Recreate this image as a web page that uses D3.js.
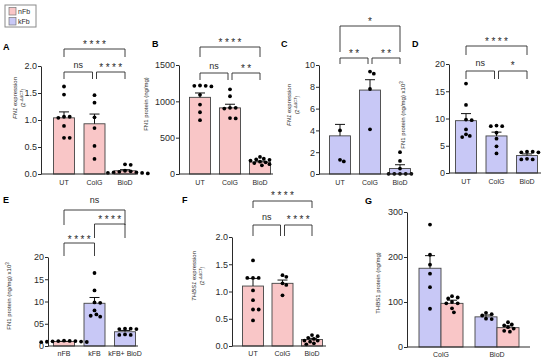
<!DOCTYPE html>
<html>
<head>
<meta charset="utf-8">
<script src="https://cdn.jsdelivr.net/npm/d3@7"></script>
<style>
  body { margin: 0; background: #fff; }
  svg { display: block; font-family: "Liberation Sans", Arial, sans-serif; }
</style>
</head>
<body>
<svg id="fig" width="550" height="360"></svg>
<script>
// ---- data ----
const treatGroups = ["UT", "ColG", "BioD"];
const eGroups = ["nFB", "kFB", "kFB+ BioD"];
const gGroups = ["ColG", "BioD"];
const legendKeys = ["nFb", "kFb"];

const aMean = [1.04, 0.93, 0.06];
const aSem = [0.11, 0.18, 0.02];
const aPts = [
  [1.62, 1.47, 1.06, 1.06, 1.04, 0.89, 0.67, 0.67],
  [1.46, 1.32, 1.05, 0.85, 0.52, 0.28],
  [0.18, 0.17, 0.06, 0.05, 0.04, 0.03, 0.03, 0.02, 0.02, 0.01]
];
const aTicks = [0, 0.5, 1, 1.5, 2];
const aStats = [[0, 1, "ns", 0], [1, 2, "****", 0], [0, 2, "****", 1]];

const bMean = [1055, 910, 165];
const bSem = [60, 50, 12];
const bPts = [
  [1205, 1214, 1214, 1218, 1090, 955, 850, 741],
  [1165, 1070, 910, 910, 900, 770, 765],
  [235, 210, 200, 195, 185, 170, 160, 150, 135, 120]
];
const bTicks = [0, 500, 1000, 1500];
const bStats = [[0, 1, "ns", 0], [1, 2, "**", 0], [0, 2, "****", 1]];

const cMean = [3.5, 7.7, 0.5];
const cSem = [1.05, 0.95, 0.35];
const cPts = [
  [4.0, 1.3, 1.15],
  [9.4, 9.2, 7.8, 4.1],
  [2.0, 1.2, 0.5, 0.02, 0.02, 0.02, 0.02, 0.02]
];
const cTicks = [0, 2, 4, 6, 8, 10];
const cStats = [[0, 1, "**", 0], [1, 2, "**", 0], [0, 2, "*", 1]];

const dMean = [9.6, 6.8, 3.2];
const dSem = [1.3, 0.7, 0.3];
const dPts = [
  [16.4, 12.5, 9.8, 9.7, 8.0, 7.1, 6.8, 6.6],
  [8.6, 8.6, 8.7, 7.4, 6.3, 4.9, 3.6],
  [3.9, 3.9, 3.8, 3.8, 2.5, 2.5, 2.6]
];
const dTicks = [0, 5, 10, 15, 20];
const dStats = [[0, 1, "ns", 0], [1, 2, "*", 0], [0, 2, "****", 1]];

const eMean = [1.0, 9.6, 3.2];
const eSem = [0.05, 1.3, 0.3];
const ePts = [
  [1.2, 1.15, 1.1, 1.1, 1.05, 1.0, 0.95, 0.9, 0.85],
  [16.4, 12.5, 9.8, 9.7, 8.0, 7.1, 6.8, 6.6],
  [3.9, 3.9, 3.8, 3.8, 2.5, 2.5, 2.6]
];
const eTicks = [0, 5, 10, 15, 20];
const eTickLabels = ["0", "05", "10", "15", "20"];
const eStats = [[0, 1, "****", 0], [1, 2, "****", 1], [0, 2, "ns", 2]];

const fMean = [1.10, 1.15, 0.12];
const fSem = [0.14, 0.06, 0.02];
const fPts = [
  [1.57, 1.25, 1.25, 1.25, 1.02, 0.84, 0.67, 0.67, 0.47],
  [1.30, 1.27, 1.15, 1.12, 0.93],
  [0.20, 0.18, 0.15, 0.13, 0.10, 0.10, 0.08, 0.05, 0.03]
];
const fTicks = [0, 0.5, 1, 1.5, 2];
const fStats = [[0, 1, "ns", 0], [1, 2, "****", 0], [0, 2, "****", 1]];

// G: per group, [kFb, nFb]
const gMean = [[175, 97], [67, 43]];
const gSem = [[28, 7], [4, 4]];
const gPts = [
  [[272, 205, 183, 163, 133, 85], [113, 110, 108, 100, 97, 97, 86, 77]],
  [[76, 73, 70, 63, 62], [55, 50, 48, 44, 41, 36, 34]]
];
const gTicks = [0, 100, 200, 300];

// ---- style ----
const pink = "#f9c6c7", blue = "#c8c8f6", ink = "#2a2a2a";
const svg = d3.select("#fig");

function swarm(vals, y, cx, r) {
  const placed = [];
  vals.slice().sort((a, b) => b - a).forEach(v => {
    const py = y(v);
    for (let k = 0; k < 60; k++) {
      const off = k === 0 ? 0 : (k % 2 ? 1 : -1) * Math.ceil(k / 2) * r;
      const px = cx + off;
      if (placed.every(p => Math.hypot(p.x - px, p.y - py) >= 2 * r + 0.3)) {
        placed.push({ x: px, y: py });
        break;
      }
    }
  });
  return placed;
}

function yLabel(g, p) {
  const t = g.append("text")
    .attr("transform", `translate(${p.yl.x},${p.yl.y}) rotate(-90)`)
    .attr("text-anchor", "middle")
    .attr("font-size", p.yl.size)
    .attr("fill", ink);
  if (p.gene) {
    t.append("tspan").attr("font-style", "italic").text(p.gene);
    t.append("tspan").text(p.title);
    const s = g.append("text")
      .attr("transform", `translate(${p.yl.x + 8},${p.yl.y}) rotate(-90)`)
      .attr("text-anchor", "middle")
      .attr("font-size", 5)
      .attr("fill", ink);
    s.append("tspan").text("(2");
    s.append("tspan").attr("font-style", "italic").attr("dy", -2).attr("font-size", 4).text("-\u0394\u0394CT");
    s.append("tspan").attr("dy", 2).text(")");
  } else {
    t.text(p.title);
    if (p.sup) t.append("tspan").attr("dy", -2).attr("font-size", 4.5).text(p.sup);
  }
}

function yAxis(g, p, y) {
  const ax = g.append("g")
    .attr("transform", `translate(${p.box.ax},0)`)
    .call(d3.axisLeft(y).tickValues(p.ticks).tickSize(3).tickSizeOuter(0).tickPadding(1)
      .tickFormat((d, i) => p.tickLabels ? p.tickLabels[i] : p.fmt(d)));
  ax.select(".domain").attr("stroke", ink);
  ax.selectAll(".tick line").attr("stroke", ink);
  ax.selectAll(".tick text").attr("font-size", 9).attr("fill", ink).attr("font-family", "Liberation Sans, Arial, sans-serif");
  g.append("line")
    .attr("x1", p.box.ax).attr("x2", p.box.end)
    .attr("y1", p.box.bot).attr("y2", p.box.bot)
    .attr("stroke", ink);
}

function brackets(g, p, x) {
  p.stats.forEach(([i, j, label, lv]) => {
    const L = p.lv[lv];
    let x1 = x(p.groups[i]), x2 = x(p.groups[j]);
    if (p.stats.some(s => s[3] === lv && s[1] === i)) x1 += 2;
    if (p.stats.some(s => s[3] === lv && s[0] === j)) x2 -= 2;
    g.append("path")
      .attr("d", `M${x1},${L.y + L.leg}V${L.y}H${x2}V${L.y + L.leg}`)
      .attr("fill", "none").attr("stroke", ink).attr("stroke-width", 0.9);
    const star = label.includes("*");
    g.append("text")
      .attr("x", (x1 + x2) / 2 + (star ? 1.2 : 0))
      .attr("y", L.t + (star ? 5.8 : 3))
      .attr("text-anchor", "middle")
      .attr("font-size", star ? 10 : 9)
      .attr("letter-spacing", star ? 2.4 : 0)
      .attr("fill", ink)
      .text(label);
  });
}

function barPanel(p) {
  const g = svg.append("g");
  const y = d3.scaleLinear().domain([0, p.max]).range([p.box.bot, p.box.top]);
  const x = d3.scalePoint().domain(p.groups).range([p.box.c0, p.box.c1]);
  const w = 21;

  g.selectAll("rect.bar").data(p.groups).join("rect")
    .attr("x", d => x(d) - w / 2).attr("width", w)
    .attr("y", (d, i) => y(p.mean[i]))
    .attr("height", (d, i) => p.box.bot - y(p.mean[i]))
    .attr("fill", (d, i) => p.fills[i]).attr("stroke", "#444").attr("stroke-width", 0.9);

  g.selectAll("path.err").data(p.groups).join("path")
    .attr("d", (d, i) => {
      const cx = x(d), y0 = y(p.mean[i]), y1 = y(p.mean[i] + p.sem[i]);
      return `M${cx},${y0}V${y1}M${cx - 5},${y1}H${cx + 5}`;
    })
    .attr("fill", "none").attr("stroke", "#111").attr("stroke-width", 1);

  p.groups.forEach((d, i) => {
    g.selectAll(null).data(swarm(p.pts[i], y, x(d), 1.9)).join("circle")
      .attr("cx", q => q.x).attr("cy", q => q.y).attr("r", 1.9).attr("fill", "#000");
  });

  yAxis(g, p, y);

  g.selectAll("text.xl").data(p.groups).join("text")
    .attr("x", d => x(d)).attr("y", p.box.bot + p.box.xl)
    .attr("text-anchor", "middle").attr("font-size", 7).attr("fill", ink)
    .text(d => d);

  brackets(g, p, x);
  yLabel(g, p);
  g.append("text").attr("x", p.lab.x).attr("y", p.lab.y)
    .attr("font-size", 9).attr("font-weight", "bold").attr("fill", "#000").text(p.id);
}

const panels = [
  { id: "A", groups: treatGroups, mean: aMean, sem: aSem, pts: aPts, fills: [pink, pink, pink],
    max: 2, ticks: aTicks, fmt: d3.format(".1f"), stats: aStats, gene: "FN1", title: " expression",
    box: { ax: 41, top: 66, bot: 174, c0: 64, c1: 125, end: 138, xl: 11 }, lab: { x: 3, y: 50 },
    yl: { x: 17, y: 98, size: 6 }, lv: [{ y: 72, leg: 7, t: 65 }, { y: 49, leg: 8, t: 42 }] },
  { id: "B", groups: treatGroups, mean: bMean, sem: bSem, pts: bPts, fills: [pink, pink, pink],
    max: 1500, ticks: bTicks, fmt: d3.format("d"), stats: bStats, title: "FN1 protein (ng/mg)",
    box: { ax: 179, top: 65, bot: 174, c0: 200, c1: 260, end: 273, xl: 11 }, lab: { x: 152, y: 47 },
    yl: { x: 148, y: 104, size: 6 }, lv: [{ y: 73, leg: 7, t: 66 }, { y: 47, leg: 10, t: 40 }] },
  { id: "C", groups: treatGroups, mean: cMean, sem: cSem, pts: cPts, fills: [blue, blue, blue],
    max: 10, ticks: cTicks, fmt: d3.format("d"), stats: cStats, gene: "FN1", title: " expression",
    box: { ax: 319, top: 65, bot: 174, c0: 340, c1: 400, end: 413, xl: 11 }, lab: { x: 281, y: 47 },
    yl: { x: 291, y: 105, size: 6 }, lv: [{ y: 58, leg: 6, t: 51 }, { y: 26, leg: 26, t: 19 }] },
  { id: "D", groups: treatGroups, mean: dMean, sem: dSem, pts: dPts, fills: [blue, blue, blue],
    max: 20, ticks: dTicks, fmt: d3.format("d"), stats: dStats, title: "FN1 protein (ng/mg) x10", sup: "3",
    box: { ax: 449, top: 64, bot: 173, c0: 466, c1: 527, end: 541, xl: 11 }, lab: { x: 412, y: 47 },
    yl: { x: 405, y: 115, size: 6 }, lv: [{ y: 71, leg: 8, t: 63 }, { y: 46, leg: 9, t: 39 }] },
  { id: "E", groups: eGroups, mean: eMean, sem: eSem, pts: ePts, fills: [pink, blue, blue],
    max: 20, ticks: eTicks, tickLabels: eTickLabels, stats: eStats, title: "FN1 protein (ng/mg) x10", sup: "3",
    box: { ax: 48, top: 257, bot: 346, c0: 64, c1: 125, end: 138, xl: 9.5 }, lab: { x: 3, y: 203 },
    yl: { x: 11, y: 296, size: 6 }, lv: [{ y: 243, leg: 13, t: 237 }, { y: 224, leg: 14, t: 217 }, { y: 210, leg: 15, t: 200 }] },
  { id: "F", groups: treatGroups, mean: fMean, sem: fSem, pts: fPts, fills: [pink, pink, pink],
    max: 2, ticks: fTicks, fmt: d3.format(".1f"), stats: fStats, gene: "THBS1", title: " expression",
    box: { ax: 232, top: 237, bot: 346, c0: 253, c1: 312, end: 326, xl: 9.5 }, lab: { x: 182, y: 203 },
    yl: { x: 196, y: 276, size: 6 }, lv: [{ y: 225, leg: 11, t: 217 }, { y: 201, leg: 7, t: 193 }] }
];

panels.forEach(barPanel);

// ---- panel G: grouped bars ----
(function () {
  const g = svg.append("g");
  const box = { ax: 407, top: 212, bot: 347, end: 530 };
  const y = d3.scaleLinear().domain([0, 300]).range([box.bot, box.top]);
  const x = d3.scalePoint().domain(gGroups).range([441, 497]);
  const sub = d3.scaleBand().domain(legendKeys.slice().reverse()).range([-22, 22]);
  const fill = { nFb: pink, kFb: blue };
  const keys = ["kFb", "nFb"];

  gGroups.forEach((grp, gi) => {
    keys.forEach((k, ki) => {
      const x0 = x(grp) + sub(k), w = sub.bandwidth(), cx = x0 + w / 2;
      const m = gMean[gi][ki], s = gSem[gi][ki];
      g.append("rect").attr("x", x0).attr("width", w)
        .attr("y", y(m)).attr("height", box.bot - y(m))
        .attr("fill", fill[k]).attr("stroke", "#444").attr("stroke-width", 0.9);
      g.append("path")
        .attr("d", `M${cx},${y(m)}V${y(m + s)}M${cx - 5},${y(m + s)}H${cx + 5}`)
        .attr("fill", "none").attr("stroke", "#111").attr("stroke-width", 1);
      g.selectAll(null).data(swarm(gPts[gi][ki], y, cx, 1.9)).join("circle")
        .attr("cx", q => q.x).attr("cy", q => q.y).attr("r", 1.9).attr("fill", "#000");
    });
  });

  yAxis(g, { box, ticks: gTicks, fmt: d3.format("d") }, y);

  g.selectAll("text.xl").data(gGroups).join("text")
    .attr("x", d => x(d)).attr("y", box.bot + 9.5)
    .attr("text-anchor", "middle").attr("font-size", 7).attr("fill", ink).text(d => d);

  yLabel(g, { yl: { x: 380, y: 283, size: 6 }, title: "THBS1 protein  (ng/mg)" });
  g.append("text").attr("x", 365).attr("y", 204)
    .attr("font-size", 9).attr("font-weight", "bold").attr("fill", "#000").text("G");
})();

// ---- legend ----
(function () {
  const g = svg.append("g");
  const fill = { nFb: pink, kFb: blue };
  const y = d3.scaleBand().domain(legendKeys).range([6, 26]);
  g.append("rect").attr("x", 5).attr("y", 5).attr("width", 31).attr("height", 22)
    .attr("fill", "#fff").attr("stroke", "#8a8a8a");
  g.selectAll("rect.sw").data(legendKeys).join("rect")
    .attr("x", 9).attr("y", d => y(d) + 1.5).attr("width", 7).attr("height", 7.5)
    .attr("fill", d => fill[d]).attr("stroke", "#777").attr("stroke-width", 0.7);
  g.selectAll("text").data(legendKeys).join("text")
    .attr("x", 18).attr("y", d => y(d) + 8)
    .attr("font-size", 7).attr("fill", ink).text(d => d);
})();
</script>
</body>
</html>
